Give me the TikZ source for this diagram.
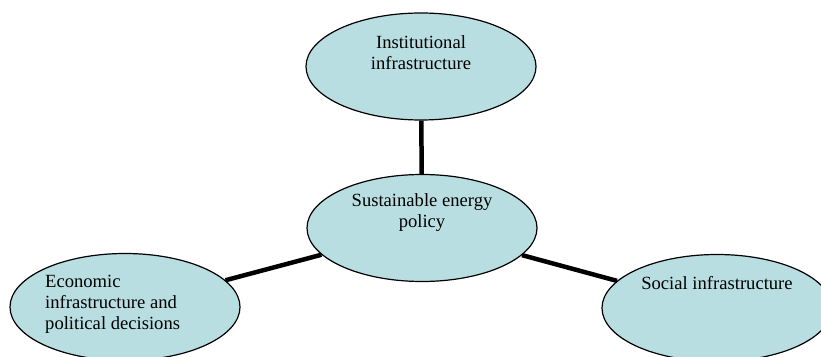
\documentclass[tikz,border=0pt]{standalone}
\usepackage{fontspec}
\setmainfont{Liberation Serif}
\usetikzlibrary{shapes.geometric}

\definecolor{bubblefill}{RGB}{184,222,226}

\tikzset{
	bubble/.style={ellipse, draw=black, line width=1.2pt, fill=bubblefill,
		minimum width=230pt, minimum height=107pt, inner sep=0pt},
	link/.style={line width=4.5pt},
	caption/.style={font=\fontsize{18.6}{21}\selectfont, inner sep=0pt}
}

\begin{document}
\begin{tikzpicture}[x=1pt, y=1pt]

	\useasboundingbox (0,0) rectangle (821,356);

	% the four ellipses
	\node[bubble] (policy)   at (422,128)   {};
	\node[bubble] (inst)     at (421,289.5) {};
	\node[bubble] (economic) at (125,49)    {};
	\node[bubble] (social)   at (717,48)    {};

	% texts sit in the upper half of each ellipse
	\node[caption, align=center] (policytext) at ([yshift=15pt]policy.center) {Sustainable energy\\ policy};
	\node[caption, align=center] (insttext)   at ([yshift=14pt]inst.center) {Institutional\\ infrastructure};
	\node[caption, align=left, anchor=west] (economictext) at (45,52) {Economic\\ infrastructure and\\ political decisions};
	\node[caption] (socialtext) at ([yshift=25pt]social.center) {Social infrastructure};

	% links to the centre
	\draw[link] (policy) -- (inst);
	\draw[link] (policy) -- (economic);
	\draw[link] (policy) -- (social);

\end{tikzpicture}
\end{document}
